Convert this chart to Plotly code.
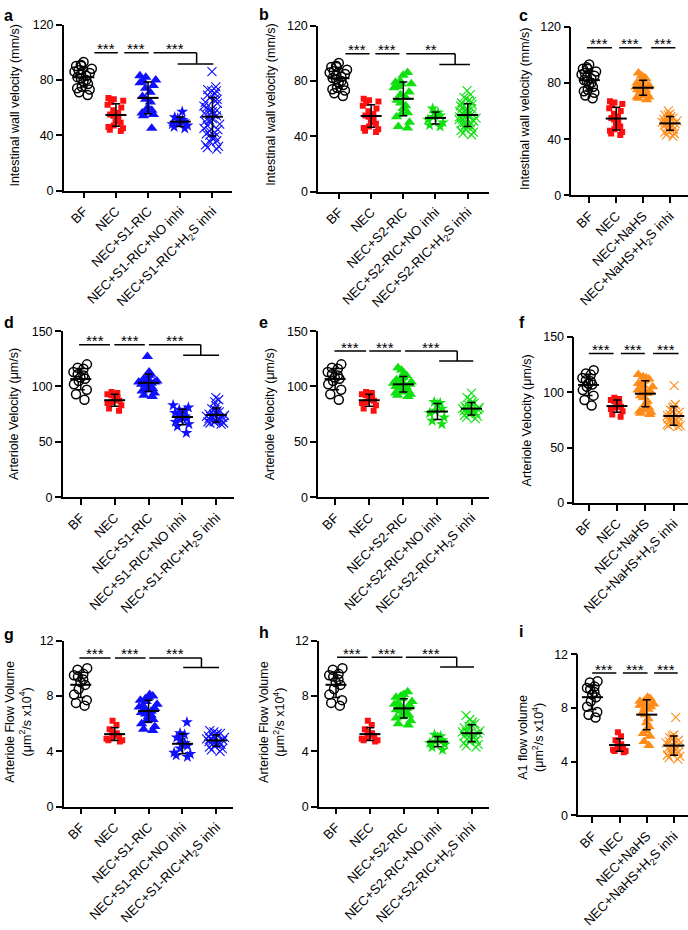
import numpy as np
import plotly.graph_objects as go

# ---------------- data ----------------
# Intestinal wall velocity (mm/s) -- panels a, b, c
iwv_bf = [93, 91, 90, 90, 88, 87, 86, 85, 84, 83, 82, 81, 80, 79, 77, 75, 74, 73, 71, 69]
iwv_nec = [67, 66, 65, 64, 62, 60, 58, 56, 55, 54, 52, 50, 49, 47, 46, 45, 44, 43]
iwv_s1 = [83, 82, 80, 79, 78, 76, 74, 71, 68, 66, 64, 60, 58, 57, 56, 55, 54, 45]
iwv_s1_no = [57, 53, 52, 51, 50, 50, 49, 48, 47, 46, 45]
iwv_s1_h2s = [86, 75, 73, 72, 72, 70, 69, 67, 66, 66, 64, 63, 61, 60, 59, 58, 58, 57, 56, 55, 55,
              54, 52, 51, 50, 49, 48, 47, 45, 44, 43, 42, 41, 40, 39, 38, 36, 35, 33, 32, 31, 30]
iwv_s2 = [86, 84, 80, 79, 78, 78, 76, 75, 72, 70, 68, 66, 64, 62, 60, 57, 56, 54, 50, 47, 46]
iwv_s2_no = [60, 57, 56, 55, 54, 52, 50, 48, 47]
iwv_s2_h2s = [73, 70, 68, 67, 66, 65, 64, 63, 62, 61, 60, 60, 59, 58, 58, 57, 56, 56, 55,
              55, 54, 54, 53, 52, 52, 51, 50, 50, 49, 48, 48, 47, 46, 45, 44, 43, 42, 41]
iwv_nahs = [87, 85, 84, 83, 82, 81, 80, 79, 78, 78, 77, 77, 76, 75, 75, 74, 73, 72, 72, 71, 70, 70, 69, 68]
iwv_nahs_h2s = [60, 58, 57, 57, 56, 55, 55, 54, 54, 53, 53, 52, 52, 51, 51, 50, 50, 49, 49, 48, 47, 46, 45, 44, 43, 42]

# Arteriole velocity (um/s) -- panels d, e, f
av_bf = [120, 117, 116, 113, 111, 110, 108, 107, 105, 102, 97, 93, 88]
av_nec = [95, 94, 93, 92, 90, 88, 87, 86, 85, 83, 80, 78]
av_s1 = [127, 113, 111, 110, 108, 107, 106, 105, 105, 104, 104, 103, 103, 102, 101, 100, 99, 98, 97, 96, 94, 92, 91]
av_s1_no = [83, 81, 79, 78, 76, 75, 73, 72, 71, 70, 68, 66, 64, 58]
av_s1_h2s = [90, 88, 86, 82, 80, 79, 78, 77, 76, 75, 75, 74, 74, 73, 73, 72, 72, 71, 71, 70, 70, 69, 69, 68, 68, 67, 67, 66]
av_s2 = [117, 115, 112, 110, 108, 107, 106, 105, 104, 103, 103, 102, 101, 100, 100, 99, 98, 97, 96, 95, 94, 93, 92, 91]
av_s2_no = [86, 85, 84, 80, 78, 76, 72, 69, 66]
av_s2_h2s = [94, 90, 88, 86, 85, 84, 83, 82, 81, 81, 80, 80, 79, 79, 78, 78, 77, 77, 76, 76, 75, 74, 73, 72, 71]
av_nahs = [116, 114, 113, 112, 111, 110, 108, 106, 105, 104, 102, 101, 100, 99, 97, 95, 92, 89, 86, 84, 83, 82, 81, 80]
av_nahs_h2s = [106, 89, 87, 86, 84, 83, 82, 80, 79, 78, 77, 76, 76, 75, 74, 73, 73, 72, 71, 70, 70, 69]

# Arteriole flow volume (um^2/s x10^4) -- panels g, h, i
fv_bf = [10.0, 9.9, 9.6, 9.5, 9.4, 9.2, 9.0, 8.8, 8.5, 8.1, 7.7, 7.5, 7.3]
fv_nec = [6.2, 5.9, 5.6, 5.4, 5.3, 5.2, 5.1, 5.0, 4.9, 4.8, 4.8, 4.7]
fv_s1 = [8.1, 8.0, 7.9, 7.8, 7.7, 7.6, 7.4, 7.3, 7.2, 7.1, 7.0, 6.9, 6.8, 6.7, 6.6, 6.5, 6.3, 6.2, 6.0, 5.8, 5.6, 5.5]
fv_s1_no = [6.1, 5.3, 5.2, 5.0, 4.8, 4.6, 4.5, 4.4, 4.2, 3.9, 3.8, 3.7, 3.6]
fv_s1_h2s = [5.5, 5.4, 5.3, 5.3, 5.2, 5.1, 5.1, 5.0, 5.0, 4.9, 4.9, 4.8, 4.8, 4.7, 4.7, 4.6, 4.6, 4.5, 4.5, 4.4, 4.3, 4.2, 4.1, 4.0]
fv_s2 = [8.3, 8.1, 8.0, 7.9, 7.8, 7.6, 7.5, 7.4, 7.3, 7.2, 7.1, 7.0, 6.9, 6.8, 6.7, 6.6, 6.5, 6.4, 6.2, 6.0, 5.9]
fv_s2_no = [5.2, 5.1, 5.0, 4.8, 4.7, 4.6, 4.5, 4.3, 4.1]
fv_s2_h2s = [6.6, 6.3, 6.1, 6.0, 5.9, 5.8, 5.7, 5.6, 5.5, 5.4, 5.4, 5.3, 5.3, 5.2, 5.1, 5.0, 5.0, 4.9, 4.8, 4.7, 4.6, 4.5, 4.4, 4.3]
a1_bf = [10.0, 9.9, 9.6, 9.5, 9.4, 9.2, 9.0, 8.8, 8.5, 8.1, 7.7, 7.5, 7.3]
a1_nec = [6.2, 5.9, 5.6, 5.4, 5.3, 5.2, 5.1, 5.0, 4.9, 4.8, 4.8, 4.7]
a1_nahs = [8.8, 8.7, 8.6, 8.5, 8.5, 8.4, 8.3, 8.2, 8.2, 8.1, 8.0, 7.9, 7.7, 7.5, 7.2, 6.9, 6.6, 6.3, 6.1, 5.9, 5.5, 5.2]
a1_nahs_h2s = [7.3, 6.0, 5.9, 5.8, 5.7, 5.6, 5.5, 5.4, 5.3, 5.2, 5.1, 5.0, 5.0, 4.9, 4.8, 4.7, 4.6, 4.5, 4.4, 4.3, 4.2]

# category labels
labels_s1 = ["BF", "NEC", "NEC+S1-RIC", "NEC+S1-RIC+NO inhi", "NEC+S1-RIC+H<sub>2</sub>S inhi"]
labels_s2 = ["BF", "NEC", "NEC+S2-RIC", "NEC+S2-RIC+NO inhi", "NEC+S2-RIC+H<sub>2</sub>S inhi"]
labels_nahs = ["BF", "NEC", "NEC+NaHS", "NEC+NaHS+H<sub>2</sub>S inhi"]

# significance labels
sig_a = ["***", "***", "***"]
sig_b = ["***", "***", "**"]
sig_c = ["***", "***", "***"]
sig_d = ["***", "***", "***"]
sig_e = ["***", "***", "***"]
sig_f = ["***", "***", "***"]
sig_g = ["***", "***", "***"]
sig_h = ["***", "***", "***"]
sig_i = ["***", "***", "***"]

# y-axis titles and ticks
title_iwv = "Intestinal wall velocity (mm/s)"
title_av = "Arteriole Velocity (\u03bcm/s)"
title_fv = "Arteriole Flow Volume<br>(\u03bcm<sup>2</sup>/s x10<sup>4</sup>)"
title_a1 = "A1 flow volume<br>(\u03bcm<sup>2</sup>/s x10<sup>4</sup>)"
ticks_iwv = [0, 40, 80, 120]
ticks_av = [0, 50, 100, 150]
ticks_fv = [0, 4, 8, 12]

# ---------------- styling ----------------
W, H = 688, 930
FONT = "Liberation Sans, Arial, Helvetica, sans-serif"
TICKSIZE = 12.5
XTICKSIZE = 13.2
BLACK = "#000000"
RED = "#ff1010"
BLUE = "#1010ff"
GREEN = "#10e010"
ORANGE = "#ff8c1a"

MARK = {
    "circle": dict(symbol="circle-open", size=9, lw=1.5),
    "square": dict(symbol="square", size=6, lw=0),
    "tri": dict(symbol="triangle-up", size=10, lw=0),
    "star": dict(symbol="star", size=9, lw=0),
    "x": dict(symbol="x-thin-open", size=9, lw=1.1),
}

# panel layout: pixel box (left, right, top, bottom), x offset, y title position, letter position, brackets
panels = [
    dict(letter="a", groups=[(iwv_bf, "circle", BLACK), (iwv_nec, "square", RED), (iwv_s1, "tri", BLUE),
                             (iwv_s1_no, "star", BLUE), (iwv_s1_h2s, "x", BLUE)],
         labels=labels_s1, ticks=ticks_iwv, title=title_iwv, sig=sig_a,
         box=(62, 231, 18, 188), off=0.62, tpos=(13, 100), lpos=(0, 9),
         segs=[(0.33, 1.06), (1.26, 2.02), (2.17, 3.51)], ys=99.7,
         join=(3.51, 91.5, 2.92, 4.03)),
    dict(letter="b", groups=[(iwv_bf, "circle", BLACK), (iwv_nec, "square", RED), (iwv_s2, "tri", GREEN),
                             (iwv_s2_no, "star", GREEN), (iwv_s2_h2s, "x", GREEN)],
         labels=labels_s2, ticks=ticks_iwv, title=title_iwv, sig=sig_b,
         box=(317, 488, 19, 189), off=0.65, tpos=(269, 100), lpos=(256, 8),
         segs=[(0.2, 0.95), (1.13, 1.88), (2.09, 3.61)], ys=99.7,
         join=(3.61, 91.8, 3.12, 4.07)),
    dict(letter="c", groups=[(iwv_bf, "circle", BLACK), (iwv_nec, "square", RED), (iwv_nahs, "tri", ORANGE),
                             (iwv_nahs_h2s, "x", ORANGE)],
         labels=labels_nahs, ticks=ticks_iwv, title=title_iwv, sig=sig_c,
         box=(571, 688, 20, 193), off=0.67, tpos=(524, 104), lpos=(516, 9),
         segs=[(-0.09, 0.84), (1.11, 1.95), (2.3, 3.2)], ys=105, join=None),
    dict(letter="d", groups=[(av_bf, "circle", BLACK), (av_nec, "square", RED), (av_s1, "tri", BLUE),
                             (av_s1_no, "star", BLUE), (av_s1_h2s, "x", BLUE)],
         labels=labels_s1, ticks=ticks_av, title=title_av, sig=sig_d,
         box=(61, 233, 332, 502), off=0.53, tpos=(12, 417), lpos=(0, 323),
         segs=[(-0.05, 0.86), (0.99, 1.89), (2.01, 3.54)], ys=137.6,
         join=(3.54, 128.2, 3.02, 4.08)),
    dict(letter="e", groups=[(av_bf, "circle", BLACK), (av_nec, "square", RED), (av_s2, "tri", GREEN),
                             (av_s2_no, "star", GREEN), (av_s2_h2s, "x", GREEN)],
         labels=labels_s2, ticks=ticks_av, title=title_av, sig=sig_e,
         box=(317, 488, 332, 502), off=0.5, tpos=(269, 417), lpos=(256, 323),
         segs=[(-0.02, 0.91), (1.0, 1.93), (2.05, 3.58)], ys=132,
         join=(3.58, 123, 3.05, 4.05)),
    dict(letter="f", groups=[(av_bf, "circle", BLACK), (av_nec, "square", RED), (av_nahs, "tri", ORANGE),
                             (av_nahs_h2s, "x", ORANGE)],
         labels=labels_nahs, ticks=ticks_av, title=title_av, sig=sig_f,
         box=(574, 688, 338, 508), off=0.5, tpos=(527, 423), lpos=(516, 323),
         segs=[(0.01, 0.88), (1.14, 1.98), (2.27, 3.17)], ys=135, join=None),
    dict(letter="g", groups=[(fv_bf, "circle", BLACK), (fv_nec, "square", RED), (fv_s1, "tri", BLUE),
                             (fv_s1_no, "star", BLUE), (fv_s1_h2s, "x", BLUE)],
         labels=labels_s1, ticks=ticks_fv, title=title_fv, sig=sig_g,
         box=(62, 232, 649, 819), off=0.5, tpos=(16, 732), lpos=(0, 643),
         segs=[(-0.04, 0.88), (1.01, 1.91), (2.02, 3.56)], ys=10.75,
         join=(3.56, 10.05, 3.02, 4.08)),
    dict(letter="h", groups=[(fv_bf, "circle", BLACK), (fv_nec, "square", RED), (fv_s2, "tri", GREEN),
                             (fv_s2_no, "star", GREEN), (fv_s2_h2s, "x", GREEN)],
         labels=labels_s2, ticks=ticks_fv, title=title_fv, sig=sig_h,
         box=(318, 488, 649, 819), off=0.5, tpos=(270, 732), lpos=(256, 641),
         segs=[(0.03, 0.93), (1.05, 1.96), (2.06, 3.56)], ys=10.8,
         join=(3.56, 10.1, 3.07, 4.07)),
    dict(letter="i", groups=[(a1_bf, "circle", BLACK), (a1_nec, "square", RED), (a1_nahs, "tri", ORANGE),
                             (a1_nahs_h2s, "x", ORANGE)],
         labels=labels_nahs, ticks=ticks_fv, title=title_a1, sig=sig_i,
         box=(578, 688, 663, 828), off=0.52, tpos=(531, 748), lpos=(516, 640),
         segs=[(-0.01, 0.88), (1.12, 2.03), (2.27, 3.14)], ys=10.6, join=None),
]

fig = go.Figure()
layout = dict(width=W, height=H, margin=dict(l=0, r=0, t=0, b=0),
              paper_bgcolor="white", plot_bgcolor="white", showlegend=False,
              font=dict(family=FONT, size=12, color=BLACK))
shapes = []
annotations = []

for k, p in enumerate(panels, start=1):
    xa, ya = f"x{k}", f"y{k}"
    xn = "xaxis" if k == 1 else f"xaxis{k}"
    yn = "yaxis" if k == 1 else f"yaxis{k}"
    left, right, top, bottom = p["box"]
    n = len(p["groups"])
    ymax = p["ticks"][-1]
    layout[xn] = dict(domain=[left / W, right / W], anchor=ya, range=[-p["off"], n - 1 + p["off"]],
                      tickmode="array", tickvals=list(range(n)), ticktext=p["labels"], tickangle=-45,
                      ticks="outside", ticklen=6, tickwidth=1.5, tickcolor=BLACK,
                      showline=True, linewidth=1.5, linecolor=BLACK, showgrid=False, zeroline=False,
                      tickfont=dict(size=XTICKSIZE, family=FONT, color=BLACK), fixedrange=True)
    layout[yn] = dict(domain=[1 - bottom / H, 1 - top / H], anchor=xa, range=[0, ymax],
                      tickmode="array", tickvals=p["ticks"], ticks="outside", ticklen=6, tickwidth=1.5,
                      tickcolor=BLACK, showline=True, linewidth=1.5, linecolor=BLACK, showgrid=False,
                      zeroline=False, tickfont=dict(size=TICKSIZE, family=FONT, color=BLACK), fixedrange=True)

    # points (jittered by the library)
    for i, (vals, mk, col) in enumerate(p["groups"]):
        m = MARK[mk]
        fig.add_trace(go.Box(
            x=[i] * len(vals), y=vals, xaxis=xa, yaxis=ya,
            boxpoints="all", jitter=0.85, pointpos=0, width=0.7,
            fillcolor="rgba(0,0,0,0)", line=dict(width=0, color="rgba(0,0,0,0)"),
            marker=dict(symbol=m["symbol"], size=m["size"], color=col,
                        line=dict(width=m["lw"], color=col)),
            hoverinfo="y", showlegend=False))
    # mean +/- SD
    for i, (vals, mk, col) in enumerate(p["groups"]):
        arr = np.asarray(vals, dtype=float)
        fig.add_trace(go.Scatter(
            x=[i], y=[arr.mean()], xaxis=xa, yaxis=ya, mode="markers",
            marker=dict(symbol="line-ew-open", size=15, color=BLACK, line=dict(width=2, color=BLACK)),
            error_y=dict(type="data", array=[arr.std(ddof=1)], width=4, thickness=1.5, color=BLACK),
            hoverinfo="skip", showlegend=False, cliponaxis=False))

    # significance brackets
    ys = p["ys"]
    for (x0, x1), txt in zip(p["segs"], p["sig"]):
        shapes.append(dict(type="line", xref=xa, yref=ya, x0=x0, x1=x1, y0=ys, y1=ys,
                           line=dict(color=BLACK, width=1.5)))
        annotations.append(dict(xref=xa, yref=ya, x=(x0 + x1) / 2, y=ys, text=txt, showarrow=False,
                                xanchor="center", yanchor="middle", yshift=4,
                                font=dict(size=15, family=FONT, color=BLACK)))
    if p["join"]:
        xv, ylow, xl0, xl1 = p["join"]
        shapes.append(dict(type="line", xref=xa, yref=ya, x0=xv, x1=xv, y0=ys, y1=ylow,
                           line=dict(color=BLACK, width=1.5)))
        shapes.append(dict(type="line", xref=xa, yref=ya, x0=xl0, x1=xl1, y0=ylow, y1=ylow,
                           line=dict(color=BLACK, width=1.5)))

    # y-axis title
    tx, ty = p["tpos"]
    annotations.append(dict(xref="paper", yref="paper", x=tx / W, y=1 - ty / H, text=p["title"],
                            textangle=-90, showarrow=False, xanchor="center", yanchor="middle",
                            font=dict(size=12.5, family=FONT, color=BLACK)))
    # panel letter
    lx, ly = p["lpos"]
    annotations.append(dict(xref="paper", yref="paper", x=lx / W, y=1 - ly / H,
                            text=f"<b>{p['letter']}</b>", showarrow=False, xanchor="left",
                            yanchor="middle", font=dict(size=16, family=FONT, color=BLACK)))

layout["shapes"] = shapes
layout["annotations"] = annotations
fig.update_layout(**layout)
fig.write_html("out.html", config={"displayModeBar": False},
               post_script="document.body.style.margin='0';document.body.style.overflow='hidden';")
